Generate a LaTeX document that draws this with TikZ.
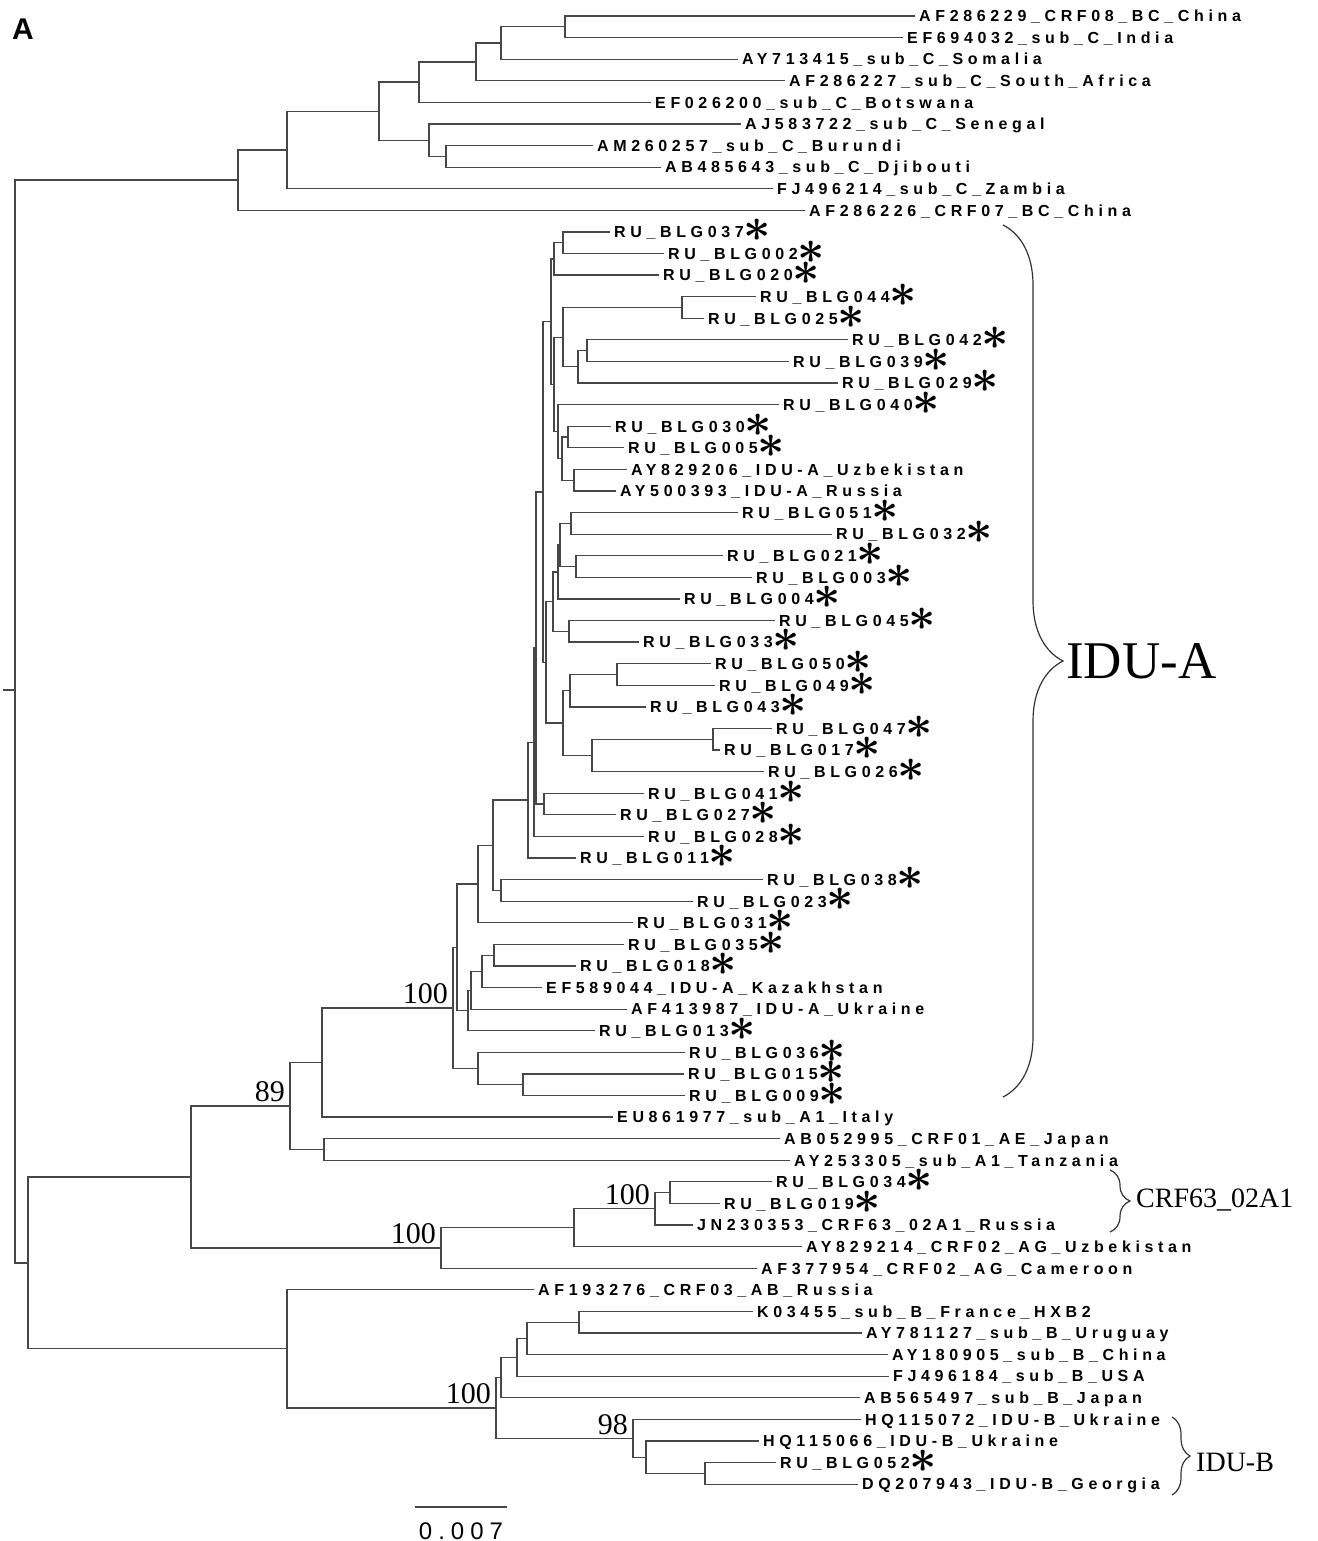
\documentclass[tikz,border=0pt]{standalone}
\usepackage{fontspec}
\usepackage{graphicx}
\usetikzlibrary{calc,decorations.pathreplacing}
\newfontfamily\labfont[LetterSpace=29]{Liberation Sans}
\newfontfamily\sbfont[LetterSpace=25]{Liberation Sans}
\newfontfamily\serfont{Liberation Serif}
\newfontfamily\headfont{Liberation Sans}
\newcommand\astk{\raisebox{-4pt}{\scalebox{2.75}{\boldmath$\ast$}}}
\tikzset{
 br/.style={draw=black!72, line width=1.25pt},
 lab/.style={anchor=base west, inner sep=0pt, xshift=4pt, yshift=-5.8pt, font=\labfont\bfseries\fontsize{16}{16}\selectfont},
 boot/.style={anchor=base east, inner sep=0pt, xshift=-5pt, yshift=4pt, font=\serfont\fontsize{30}{30}\selectfont},
 grp/.style={inner sep=0pt, font=\serfont\fontsize{28}{28}\selectfont},
 brc/.style={draw=black!80, line width=1.2pt, decorate},
}
\newcommand\leaf[4]{\coordinate (#1) at ({#3-4},{21.59*#2-5.59}); \node[lab] (#1t) at (#1) {#4};}
\newcommand\sleaf[4]{\leaf{#1}{#2}{#3}{RU\_BLG#4\astk}}
\newcommand\inode[4]{\path ($(#3)!0.5!(#4)$) coordinate (#1m); \coordinate (#1) at (#2,0 |- #1m); \draw[br] (#3) -| (#1) |- (#4);}
\begin{document}
\begin{tikzpicture}[x=1pt,y=-1pt]
\useasboundingbox (0,0) rectangle (1317,1541);
\node[anchor=base west, inner sep=0pt, font=\headfont\bfseries\fontsize{30}{30}\selectfont] (panel) at (12,40) {A};
% leaves
\leaf{L1}{1}{919}{AF286229\_CRF08\_BC\_China}
\leaf{L2}{2}{907}{EF694032\_sub\_C\_India}
\leaf{L3}{3}{742}{AY713415\_sub\_C\_Somalia}
\leaf{L4}{4}{789}{AF286227\_sub\_C\_South\_Africa}
\leaf{L5}{5}{655}{EF026200\_sub\_C\_Botswana}
\leaf{L6}{6}{745}{AJ583722\_sub\_C\_Senegal}
\leaf{L7}{7}{597}{AM260257\_sub\_C\_Burundi}
\leaf{L8}{8}{665}{AB485643\_sub\_C\_Djibouti}
\leaf{L9}{9}{777}{FJ496214\_sub\_C\_Zambia}
\leaf{L10}{10}{809}{AF286226\_CRF07\_BC\_China}
\sleaf{L11}{11}{614}{037}
\sleaf{L12}{12}{668}{002}
\sleaf{L13}{13}{663}{020}
\sleaf{L14}{14}{760}{044}
\sleaf{L15}{15}{708}{025}
\sleaf{L16}{16}{852}{042}
\sleaf{L17}{17}{793}{039}
\sleaf{L18}{18}{842}{029}
\sleaf{L19}{19}{783}{040}
\sleaf{L20}{20}{615}{030}
\sleaf{L21}{21}{628}{005}
\leaf{L22}{22}{631}{AY829206\_IDU-A\_Uzbekistan}
\leaf{L23}{23}{620}{AY500393\_IDU-A\_Russia}
\sleaf{L24}{24}{742}{051}
\sleaf{L25}{25}{836}{032}
\sleaf{L26}{26}{727}{021}
\sleaf{L27}{27}{756}{003}
\sleaf{L28}{28}{684}{004}
\sleaf{L29}{29}{779}{045}
\sleaf{L30}{30}{643}{033}
\sleaf{L31}{31}{715}{050}
\sleaf{L32}{32}{719}{049}
\sleaf{L33}{33}{650}{043}
\sleaf{L34}{34}{776}{047}
\sleaf{L35}{35}{724}{017}
\sleaf{L36}{36}{768}{026}
\sleaf{L37}{37}{648}{041}
\sleaf{L38}{38}{620}{027}
\sleaf{L39}{39}{648}{028}
\sleaf{L40}{40}{580}{011}
\sleaf{L41}{41}{767}{038}
\sleaf{L42}{42}{697}{023}
\sleaf{L43}{43}{637}{031}
\sleaf{L44}{44}{628}{035}
\sleaf{L45}{45}{580}{018}
\leaf{L46}{46}{546}{EF589044\_IDU-A\_Kazakhstan}
\leaf{L47}{47}{631}{AF413987\_IDU-A\_Ukraine}
\sleaf{L48}{48}{599}{013}
\sleaf{L49}{49}{689}{036}
\sleaf{L50}{50}{688}{015}
\sleaf{L51}{51}{689}{009}
\leaf{L52}{52}{617}{EU861977\_sub\_A1\_Italy}
\leaf{L53}{53}{784}{AB052995\_CRF01\_AE\_Japan}
\leaf{L54}{54}{794}{AY253305\_sub\_A1\_Tanzania}
\sleaf{L55}{55}{776}{034}
\sleaf{L56}{56}{724}{019}
\leaf{L57}{57}{697}{JN230353\_CRF63\_02A1\_Russia}
\leaf{L58}{58}{806}{AY829214\_CRF02\_AG\_Uzbekistan}
\leaf{L59}{59}{761}{AF377954\_CRF02\_AG\_Cameroon}
\leaf{L60}{60}{538}{AF193276\_CRF03\_AB\_Russia}
\leaf{L61}{61}{757}{K03455\_sub\_B\_France\_HXB2}
\leaf{L62}{62}{866}{AY781127\_sub\_B\_Uruguay}
\leaf{L63}{63}{892}{AY180905\_sub\_B\_China}
\leaf{L64}{64}{893}{FJ496184\_sub\_B\_USA}
\leaf{L65}{65}{864}{AB565497\_sub\_B\_Japan}
\leaf{L66}{66}{865}{HQ115072\_IDU-B\_Ukraine}
\leaf{L67}{67}{763}{HQ115066\_IDU-B\_Ukraine}
\sleaf{L68}{68}{780}{052}
\leaf{L69}{69}{862}{DQ207943\_IDU-B\_Georgia}
% subtype C group
\inode{c7}{565}{L1}{L2}
\inode{c6}{501}{c7}{L3}
\inode{c5}{476}{c6}{L4}
\inode{c3}{419}{c5}{L5}
\inode{c8}{446}{L7}{L8}
\inode{c4}{429}{L6}{c8}
\inode{c2}{379}{c3}{c4}
\inode{c1}{287}{c2}{L9}
\inode{c0}{238}{c1}{L10}
% IDU-A
\inode{m1}{563}{L11}{L12}
\inode{m2}{554}{m1}{L13}
\inode{p1}{682}{L14}{L15}
\inode{p2}{587}{L16}{L17}
\inode{p3}{578}{p2}{L18}
\inode{p4}{563}{p1}{p3}
\inode{q1}{568}{L20}{L21}
\inode{q2}{574}{L22}{L23}
\inode{q3}{562}{q1}{q2}
\inode{q4}{558}{L19}{q3}
\inode{nB}{554}{p4}{q4}
\inode{nA}{551}{m2}{nB}
\inode{s1}{571}{L24}{L25}
\inode{s2}{576}{L26}{L27}
\inode{s3}{560}{s1}{s2}
\inode{s4}{558}{s3}{L28}
\inode{s5}{569}{L29}{L30}
\inode{s6}{553}{s4}{s5}
\inode{t1}{617}{L31}{L32}
\inode{t2}{570}{t1}{L33}
\inode{t3}{713}{L34}{L35}
\inode{t4}{592}{t3}{L36}
\inode{t5}{563}{t2}{t4}
\inode{s7}{546}{s6}{t5}
\inode{N1}{543}{nA}{s7}
\inode{u1}{544}{L37}{L38}
\inode{N2}{536}{N1}{u1}
\inode{N3}{534}{N2}{L39}
\inode{N4}{528}{N3}{L40}
\inode{i9}{501}{L41}{L42}
\inode{i10}{493}{N4}{i9}
\inode{i2}{478}{i10}{L43}
\inode{i6}{494}{L44}{L45}
\inode{i5}{482}{i6}{L46}
\inode{i4}{471}{i5}{L47}
\inode{i3}{468}{i4}{L48}
\inode{i1}{457}{i2}{i3}
\inode{i8}{523}{L50}{L51}
\inode{i7}{478}{L49}{i8}
\inode{idu}{453}{i1}{i7}
\inode{a3}{322}{idu}{L52}
\inode{a2}{324}{L53}{L54}
\inode{a1}{290}{a3}{a2}
% CRF02 / CRF63
\inode{cr4}{670}{L55}{L56}
\inode{cr3}{655}{cr4}{L57}
\inode{cr2}{574}{cr3}{L58}
\inode{crf}{441}{cr2}{L59}
\inode{a0}{191}{a1}{crf}
% subtype B
\inode{b5}{579}{L61}{L62}
\inode{b4}{527}{b5}{L63}
\inode{b3}{517}{b4}{L64}
\inode{b2}{501}{b3}{L65}
\inode{b8}{705}{L68}{L69}
\inode{b7}{646}{L67}{b8}
\inode{b6}{633}{L66}{b7}
\inode{b1}{496}{b2}{b6}
\inode{b0}{287}{L60}{b1}
\inode{r1}{28}{a0}{b0}
\inode{root}{15}{c0}{r1}
\coordinate (stubA) at (15,690);
\coordinate (stubB) at (3,690);
\draw[br] (stubA) -- (stubB);
% bootstrap values
\node[boot] (bsidu) at (idu) {100};
\node[boot] (bsa1) at (a1) {89};
\node[boot] (bscrf) at (crf) {100};
\node[boot] (bscr3) at (cr3) {100};
\node[boot] (bsb1) at (b1) {100};
\node[boot] (bsb6) at (b6) {98};
% braces
\coordinate (bA1) at (1003,225);
\coordinate (bA2) at (1003,1097);
\draw[brc, decoration={brace, amplitude=60pt}] (bA1) -- (bA2);
\node[anchor=west, inner sep=0pt, font=\serfont\fontsize{53}{53}\selectfont] (idua) at (1066,661) {IDU-A};
\coordinate (bC1) at (1110,1170);
\coordinate (bC2) at (1110,1232);
\draw[brc, decoration={brace, amplitude=20pt}] (bC1) -- (bC2);
\node[grp, anchor=base west] (crft) at (1136,1207) {CRF63\_02A1};
\coordinate (bB1) at (1172,1417);
\coordinate (bB2) at (1172,1495);
\draw[brc, decoration={brace, amplitude=18pt}] (bB1) -- (bB2);
\node[grp, anchor=west] (idub) at (1196,1462) {IDU-B};
% scale bar
\coordinate (sb1) at (415,1507);
\coordinate (sb2) at (507,1507);
\draw[br] (sb1) -- (sb2);
\node[anchor=base, inner sep=0pt, font=\sbfont\fontsize{24}{24}\selectfont] (sbt) at (461,1539) {0.007};
\end{tikzpicture}
\end{document}
